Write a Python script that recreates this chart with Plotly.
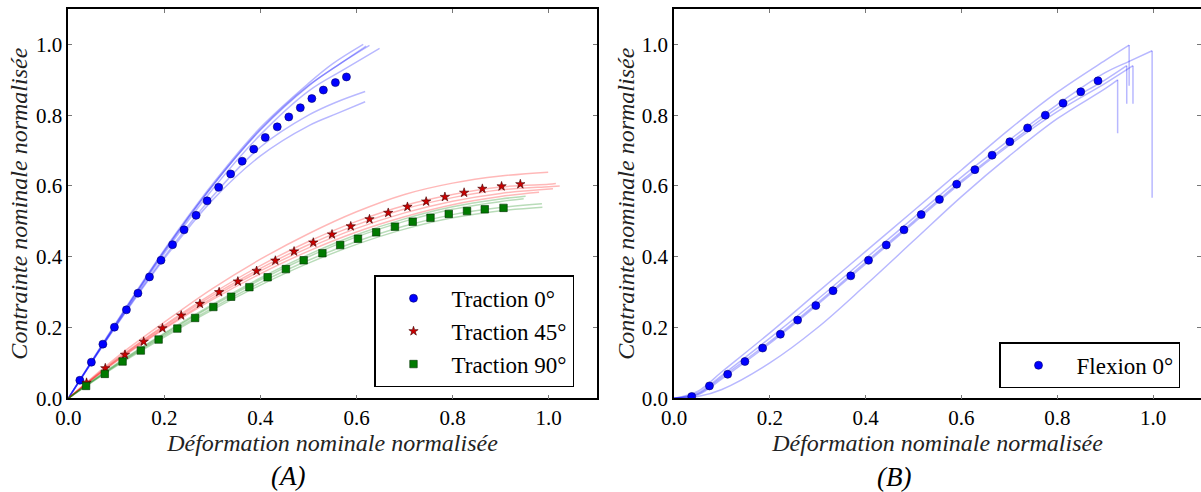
import plotly.graph_objects as go

# ---------------- Panel A : traction ----------------
t0_x = [0.024, 0.048, 0.072, 0.096, 0.121, 0.145, 0.169, 0.193, 0.217, 0.241, 0.266, 0.289,
        0.313, 0.338, 0.362, 0.386, 0.410, 0.435, 0.459, 0.483, 0.507, 0.531, 0.556, 0.579]
t0_y = [0.051, 0.102, 0.153, 0.201, 0.250, 0.297, 0.343, 0.390, 0.434, 0.476, 0.517, 0.558,
        0.596, 0.634, 0.670, 0.704, 0.737, 0.767, 0.795, 0.821, 0.847, 0.871, 0.892, 0.908]

t45_x = [0.038, 0.077, 0.118, 0.157, 0.196, 0.235, 0.274, 0.314, 0.353, 0.392, 0.431, 0.470,
         0.510, 0.549, 0.588, 0.627, 0.666, 0.706, 0.745, 0.784, 0.824, 0.862, 0.902, 0.941]
t45_y = [0.044, 0.085, 0.123, 0.160, 0.198, 0.234, 0.267, 0.300, 0.330, 0.360, 0.389, 0.415,
         0.440, 0.463, 0.486, 0.506, 0.524, 0.541, 0.556, 0.569, 0.581, 0.592, 0.599, 0.605]

t90_x = [0.037, 0.076, 0.113, 0.151, 0.188, 0.227, 0.264, 0.302, 0.339, 0.377, 0.415, 0.453,
         0.490, 0.529, 0.566, 0.603, 0.641, 0.680, 0.717, 0.754, 0.792, 0.830, 0.867, 0.906]
t90_y = [0.035, 0.069, 0.104, 0.135, 0.166, 0.197, 0.227, 0.258, 0.287, 0.314, 0.342, 0.365,
         0.390, 0.410, 0.433, 0.451, 0.469, 0.485, 0.499, 0.510, 0.521, 0.529, 0.534, 0.538]

# experimental curves, traction 0 deg
t0_exp_x = [
    [0, 0.1, 0.2, 0.3, 0.4, 0.5, 0.55, 0.614],
    [0, 0.1, 0.2, 0.3, 0.4, 0.5, 0.56, 0.627],
    [0, 0.1, 0.2, 0.3, 0.4, 0.5, 0.575, 0.648],
    [0, 0.1, 0.2, 0.3, 0.4, 0.5, 0.56, 0.62],
    [0, 0.1, 0.2, 0.3, 0.4, 0.5, 0.56, 0.618],
    [0, 0.1, 0.2, 0.3, 0.4, 0.5, 0.56, 0.618],
]
t0_exp_y = [
    [0, 0.215, 0.420, 0.605, 0.765, 0.890, 0.945, 1.000],
    [0, 0.212, 0.415, 0.600, 0.758, 0.882, 0.940, 0.997],
    [0, 0.208, 0.410, 0.590, 0.745, 0.868, 0.930, 0.989],
    [0, 0.212, 0.417, 0.600, 0.760, 0.884, 0.940, 0.995],
    [0, 0.207, 0.400, 0.570, 0.710, 0.800, 0.838, 0.867],
    [0, 0.205, 0.395, 0.560, 0.685, 0.770, 0.805, 0.838],
]

# experimental curves, traction 45 deg
t45_exp_x = [
    [0, 0.1, 0.2, 0.3, 0.4, 0.5, 0.6, 0.7, 0.8, 0.9, 0.999],
    [0, 0.1, 0.2, 0.3, 0.4, 0.5, 0.6, 0.7, 0.8, 0.9, 1.0, 1.015],
    [0, 0.1, 0.2, 0.3, 0.4, 0.5, 0.6, 0.7, 0.8, 0.9, 1.0, 1.023],
    [0, 0.1, 0.2, 0.3, 0.4, 0.5, 0.6, 0.7, 0.8, 0.9, 1.009],
    [0, 0.1, 0.2, 0.3, 0.4, 0.5, 0.6, 0.7, 0.8, 0.9, 0.98],
]
t45_exp_y = [
    [0, 0.115, 0.215, 0.310, 0.393, 0.465, 0.527, 0.576, 0.608, 0.628, 0.639],
    [0, 0.110, 0.207, 0.296, 0.375, 0.443, 0.500, 0.545, 0.576, 0.597, 0.605, 0.607],
    [0, 0.108, 0.203, 0.290, 0.367, 0.434, 0.490, 0.535, 0.567, 0.589, 0.598, 0.600],
    [0, 0.106, 0.199, 0.284, 0.360, 0.425, 0.480, 0.524, 0.557, 0.579, 0.592],
    [0, 0.104, 0.196, 0.279, 0.352, 0.416, 0.470, 0.513, 0.547, 0.570, 0.582],
]

# experimental curves, traction 90 deg
t90_exp_x = [
    [0, 0.1, 0.2, 0.3, 0.4, 0.5, 0.6, 0.7, 0.8, 0.9, 0.952],
    [0, 0.1, 0.2, 0.3, 0.4, 0.5, 0.6, 0.7, 0.8, 0.9, 0.948],
    [0, 0.1, 0.2, 0.3, 0.4, 0.5, 0.6, 0.7, 0.8, 0.9, 0.986],
    [0, 0.1, 0.2, 0.3, 0.4, 0.5, 0.6, 0.7, 0.8, 0.9, 0.987],
]
t90_exp_y = [
    [0, 0.097, 0.184, 0.265, 0.340, 0.406, 0.462, 0.507, 0.541, 0.563, 0.571],
    [0, 0.095, 0.181, 0.261, 0.335, 0.400, 0.456, 0.500, 0.534, 0.556, 0.564],
    [0, 0.093, 0.177, 0.255, 0.327, 0.390, 0.443, 0.487, 0.519, 0.539, 0.550],
    [0, 0.091, 0.173, 0.250, 0.320, 0.382, 0.435, 0.478, 0.510, 0.530, 0.540],
]

# ---------------- Panel B : flexion ----------------
f0_x = [0.037, 0.074, 0.112, 0.148, 0.185, 0.222, 0.258, 0.296, 0.332, 0.369, 0.406, 0.443,
        0.480, 0.516, 0.554, 0.590, 0.628, 0.664, 0.701, 0.738, 0.775, 0.812, 0.849, 0.885]
f0_y = [0.005, 0.035, 0.068, 0.104, 0.142, 0.181, 0.221, 0.262, 0.304, 0.346, 0.390, 0.433,
        0.476, 0.519, 0.562, 0.605, 0.646, 0.687, 0.725, 0.764, 0.800, 0.834, 0.866, 0.897]

f0_exp_x = [
    [0, 0.05, 0.1, 0.2, 0.3, 0.4, 0.5, 0.6, 0.7, 0.8, 0.9, 0.950],
    [0, 0.05, 0.1, 0.2, 0.3, 0.4, 0.5, 0.6, 0.7, 0.8, 0.9, 0.95, 0.998],
    [0, 0.05, 0.1, 0.2, 0.3, 0.4, 0.5, 0.6, 0.7, 0.8, 0.9, 0.945],
    [0, 0.05, 0.1, 0.2, 0.3, 0.4, 0.5, 0.6, 0.7, 0.8, 0.9, 0.958],
    [0, 0.05, 0.1, 0.2, 0.3, 0.4, 0.5, 0.6, 0.7, 0.8, 0.9, 0.926],
]
f0_exp_y = [
    [0, 0.020, 0.075, 0.185, 0.300, 0.415, 0.530, 0.645, 0.760, 0.865, 0.955, 0.998],
    [0, 0.015, 0.065, 0.170, 0.280, 0.395, 0.510, 0.625, 0.730, 0.830, 0.920, 0.952, 0.982],
    [0, 0.012, 0.060, 0.160, 0.270, 0.385, 0.500, 0.615, 0.720, 0.820, 0.900, 0.940],
    [0, 0.010, 0.055, 0.155, 0.265, 0.380, 0.495, 0.610, 0.715, 0.810, 0.890, 0.940],
    [0, 0.005, 0.025, 0.100, 0.200, 0.320, 0.445, 0.570, 0.685, 0.790, 0.875, 0.900],
]
# stress level reached after the rupture drop of each flexion curve
f0_drop_y = [0.883, 0.567, 0.832, 0.832, 0.749]

x_ticks = [0.0, 0.2, 0.4, 0.6, 0.8, 1.0]
y_ticks = [0.0, 0.2, 0.4, 0.6, 0.8, 1.0]

FONT = '"Liberation Serif", "Times New Roman", "DejaVu Serif", serif'
W, H = 1201, 492

fig = go.Figure()

def exp_lines(xs, ys, color, xa, ya):
    for cx, cy in zip(xs, ys):
        fig.add_trace(go.Scatter(x=cx, y=cy, mode="lines", xaxis=xa, yaxis=ya,
                                 line=dict(color=color, width=1.5, shape="spline", smoothing=1.0),
                                 showlegend=False, hoverinfo="skip"))

exp_lines(t0_exp_x, t0_exp_y, "rgba(0,0,255,0.28)", "x", "y")
exp_lines(t45_exp_x, t45_exp_y, "rgba(255,0,0,0.28)", "x", "y")
exp_lines(t90_exp_x, t90_exp_y, "rgba(0,128,0,0.28)", "x", "y")
exp_lines(f0_exp_x, f0_exp_y, "rgba(0,0,255,0.28)", "x2", "y2")
for cx, cy, dy in zip(f0_exp_x, f0_exp_y, f0_drop_y):
    fig.add_trace(go.Scatter(x=[cx[-1], cx[-1]], y=[cy[-1], dy], mode="lines",
                             xaxis="x2", yaxis="y2",
                             line=dict(color="rgba(0,0,255,0.28)", width=1.5),
                             showlegend=False, hoverinfo="skip"))

fig.add_trace(go.Scatter(x=t0_x, y=t0_y, mode="markers", name="Traction 0°",
                         marker=dict(symbol="circle", size=8, color="#0000ff",
                                     line=dict(color="#00006a", width=0.6)),
                         xaxis="x", yaxis="y", legend="legend"))
fig.add_trace(go.Scatter(x=t45_x, y=t45_y, mode="markers", name="Traction 45°",
                         marker=dict(symbol="star", size=7, color="#cc0000",
                                     line=dict(color="#400000", width=0.6)),
                         xaxis="x", yaxis="y", legend="legend"))
fig.add_trace(go.Scatter(x=t90_x, y=t90_y, mode="markers", name="Traction 90°",
                         marker=dict(symbol="square", size=7.5, color="#007a00",
                                     line=dict(color="#003000", width=0.6)),
                         xaxis="x", yaxis="y", legend="legend"))
fig.add_trace(go.Scatter(x=f0_x, y=f0_y, mode="markers", name="Flexion 0°",
                         marker=dict(symbol="circle", size=8, color="#0000ff",
                                     line=dict(color="#00006a", width=0.6)),
                         xaxis="x2", yaxis="y2", legend="legend2"))

y_bot = 1 - 398.3 / H
y_top = 1 - 9 / H

def xaxis(dom):
    return dict(domain=dom, range=[0, 1.1], tickvals=x_ticks, tickformat=".1f",
                automargin=False,
                ticks="inside", ticklen=4, tickcolor="#777", tickwidth=1,
                showline=True, linecolor="black", linewidth=1.5, mirror="allticks",
                showgrid=False, zeroline=False,
                tickfont=dict(family=FONT, size=21, color="black"),
                title=dict(text="<i>Déformation nominale normalisée</i>",
                           font=dict(family=FONT, size=24, color="#222"), standoff=0))

def yaxis(anchor, standoff):
    return dict(domain=[y_bot, y_top], range=[0, 1.1], tickvals=y_ticks, tickformat=".1f",
                anchor=anchor, automargin=False,
                ticks="inside", ticklen=4, tickcolor="#777", tickwidth=1,
                showline=True, linecolor="black", linewidth=1.5, mirror="allticks",
                showgrid=False, zeroline=False,
                tickfont=dict(family=FONT, size=21, color="black"),
                title=dict(text="<i>Contrainte nominale normalisée</i>",
                           font=dict(family=FONT, size=24, color="#222"), standoff=standoff))

legend_common = dict(bordercolor="black", borderwidth=1.5, bgcolor="white",
                     font=dict(family=FONT, size=23, color="black"),
                     itemwidth=66, tracegroupgap=0)

fig.update_layout(
    width=W, height=H,
    margin=dict(l=0, r=0, t=0, b=0, autoexpand=False),
    paper_bgcolor="white", plot_bgcolor="white",
    font=dict(family=FONT),
    showlegend=True,
    xaxis=dict(**xaxis([68.3 / W, 596.7 / W]), anchor="y"),
    yaxis=yaxis("x", 2),
    xaxis2=dict(**xaxis([674 / W, 1.0]), anchor="y2"),
    yaxis2=yaxis("x2", 0),
    legend=dict(x=374 / W, xanchor="left", y=1 - 387.3 / H, yanchor="bottom", **legend_common),
    legend2=dict(x=999 / W, xanchor="left", y=1 - 388.3 / H, yanchor="bottom", **legend_common),
    annotations=[
        dict(text="<i>(A)</i>", x=288 / W, y=1 - 476 / H, xref="paper", yref="paper",
             xanchor="center", yanchor="middle",
             showarrow=False, font=dict(family=FONT, size=27, color="black")),
        dict(text="<i>(B)</i>", x=894 / W, y=1 - 477 / H, xref="paper", yref="paper",
             xanchor="center", yanchor="middle",
             showarrow=False, font=dict(family=FONT, size=27, color="black")),
    ],
)

fig.write_html("out.html", config={"displayModeBar": False},
               post_script="document.body.style.margin='0';document.body.style.padding='0';")
